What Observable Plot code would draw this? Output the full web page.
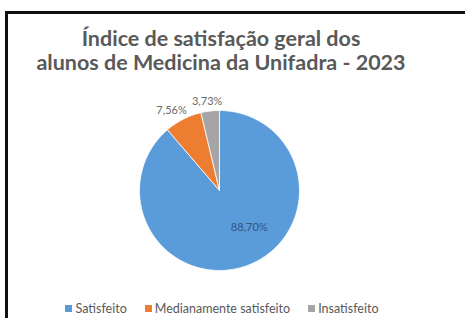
<!DOCTYPE html>
<html><head><meta charset="utf-8">
<script src="https://cdn.jsdelivr.net/npm/d3@7"></script>
<script src="https://cdn.jsdelivr.net/npm/@observablehq/plot@0.6"></script>
<style>
html,body{margin:0;padding:0;background:#fff;overflow:hidden}
body{width:465px;height:318px;position:relative;font-family:Lato,"Open Sans",sans-serif}
#frame{position:absolute;left:5px;top:11px;width:460px;height:307px;border-top:3px solid #111;border-left:3px solid #111;box-sizing:border-box}
#chart{position:absolute;left:0;top:0}
#title{position:absolute;left:0;top:26px;width:442px;text-align:center;font-weight:bold;color:#595959;font-size:21.5px;line-height:24px}
#legend{position:absolute;left:0;top:302px;width:444px;display:flex;justify-content:center;gap:18px;font-size:12.5px;color:#595959;line-height:13px}
#legend span.item{display:flex;align-items:center;gap:3px}
#legend span.sw{display:inline-block;width:7px;height:7px}
</style></head>
<body>
<div id="frame"></div>
<div id="chart"></div>
<div id="title"></div>
<div id="legend"></div>
<script>
const titleLines = ["Índice de satisfação geral dos", "alunos de Medicina da Unifadra - 2023"];
const categories = ["Satisfeito", "Medianamente satisfeito", "Insatisfeito"];
const values = [88.70, 7.56, 3.73];
const labels = ["88,70%", "7,56%", "3,73%"];
const colors = ["#5a9bda", "#ed7d31", "#a5a5a5"];

document.getElementById("title").innerHTML = titleLines.join("<br>");

const total = d3.sum(values);
const slices = [];
const labelData = [];
let acc = 0;
values.forEach((v, i) => {
  const a0 = acc / total * 2 * Math.PI;
  acc += v;
  const a1 = acc / total * 2 * Math.PI;
  const steps = Math.max(4, Math.ceil((a1 - a0) / (2 * Math.PI) * 240));
  slices.push({cat: categories[i], x: 0, y: 0});
  for (let k = 0; k <= steps; k++) {
    const a = a0 + (a1 - a0) * k / steps;
    slices.push({cat: categories[i], x: Math.sin(a), y: Math.cos(a)});
  }
  slices.push({cat: categories[i], x: 0, y: 0});
  const m = (a0 + a1) / 2;
  const inside = v / total > 0.5;
  const r = inside ? 0.6 : 1.12;
  labelData.push({
    cat: categories[i], label: labels[i], inside,
    x: Math.sin(m) * r + (inside ? 0 : Math.sin(m) * 0.2),
    y: Math.cos(m) * r
  });
});

const chart = Plot.plot({
  width: 465, height: 318,
  marginLeft: 139, marginRight: 166, marginTop: 110, marginBottom: 48,
  x: {domain: [-1, 1], axis: null},
  y: {domain: [-1, 1], axis: null},
  color: {domain: categories, range: colors},
  style: {background: "transparent", overflow: "visible"},
  marks: [
    Plot.line(slices, {x: "x", y: "y", z: "cat", fill: "cat", stroke: "white", strokeWidth: 0.8, curve: "linear"}),
    Plot.text(labelData.filter(d => d.inside), {x: "x", y: "y", text: "label", dx: 13, dy: -8, fill: "#33557a", fontSize: 11, fontFamily: "Lato, sans-serif"}),
    Plot.text(labelData.filter(d => !d.inside), {x: "x", y: "y", text: "label", fill: "#6b6b6b", fontSize: 11, fontFamily: "Lato, sans-serif"})
  ]
});
document.getElementById("chart").appendChild(chart);

const legend = document.getElementById("legend");
categories.forEach((c, i) => {
  const item = document.createElement("span");
  item.className = "item";
  item.innerHTML = `<span class="sw" style="background:${colors[i]}"></span><span>${c}</span>`;
  legend.appendChild(item);
});
</script>
</body></html>
